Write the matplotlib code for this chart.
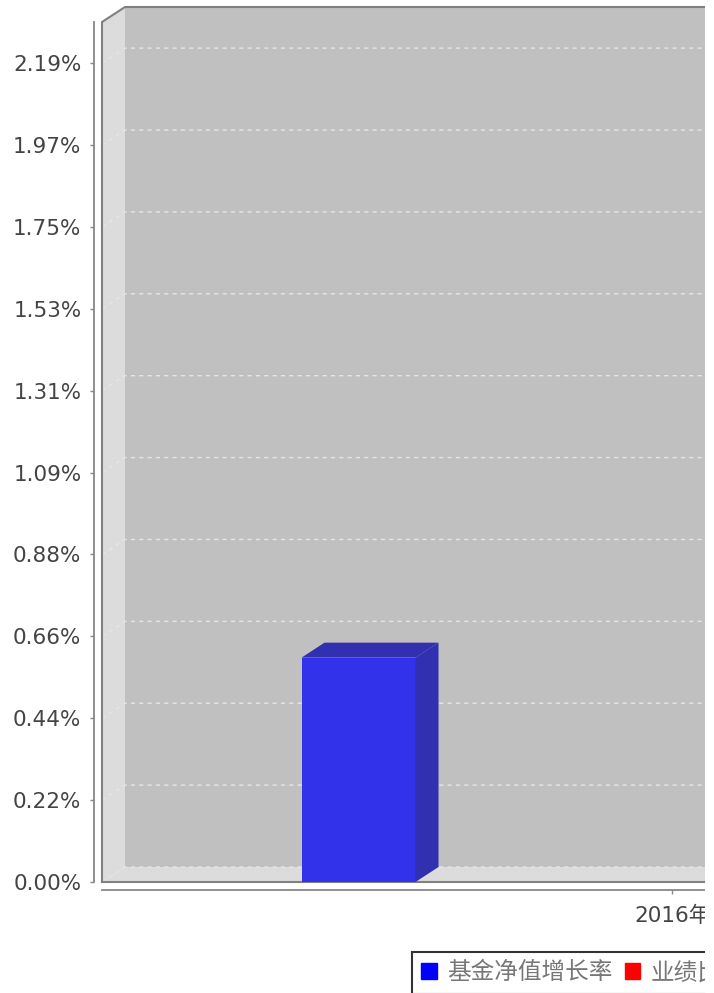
import numpy as np
import matplotlib.pyplot as plt
from matplotlib.patches import Polygon, Rectangle, Patch

plt.rcParams['font.family'] = ['DejaVu Sans', 'Noto Sans CJK SC']

categories = ['2016年']
nav_growth = [0.60]
benchmark = [2.19]
series_names = ['基金净值增长率', '业绩比较基准收益率']
ytick_vals = [0.0, 0.219, 0.438, 0.657, 0.876, 1.095, 1.314, 1.533, 1.752, 1.971, 2.19]
ytick_labels = ['0.00%', '0.22%', '0.44%', '0.66%', '0.88%', '1.09%',
                '1.31%', '1.53%', '1.75%', '1.97%', '2.19%']

W, H = 714, 993
left, right, top, bottom = 102, 705, 22, 882
full_w = 1140          # width of the uncropped plot area, px
depth_x, depth_y = 23, 15
ymax = 2.30

fig = plt.figure(figsize=(W / 100, H / 100), dpi=100)
ax = fig.add_axes([left / W, 1 - bottom / H, (right - left) / W, (bottom - top) / H])
x0, x1 = -0.5, -0.5 + (right - left) / full_w
ax.set_xlim(x0, x1)
ax.set_ylim(0, ymax)
ax.patch.set_visible(False)

# 3d offsets in data units
ox = depth_x / full_w
oy = depth_y * ymax / (bottom - top)
span = x1 - x0

# walls
ax.add_patch(Rectangle((x0 + ox, oy), span + 1, ymax, fc='#c0c0c0', ec='none',
                       zorder=0, clip_on=False))
ax.add_patch(Polygon([(x0, 0), (x0, ymax), (x0 + ox, ymax + oy), (x0 + ox, oy)],
                     fc='#dcdcdc', ec='none', zorder=0.5, clip_on=False))
ax.add_patch(Polygon([(x0, 0), (x1 + 1, 0), (x1 + 1 + ox, oy), (x0 + ox, oy)],
                     fc='#dcdcdc', ec='none', zorder=0.5, clip_on=False))

# grid on back wall
for v in ytick_vals:
    ax.plot([x0, x0 + ox, x1 + 1], [v, v + oy, v + oy], color='#e6e6e6', lw=1,
            ls=(0, (3, 3)), zorder=1, clip_on=False)

# wall outlines
edge = '#808080'
ax.plot([x0, x0, x0 + ox, x1 + 1], [0, ymax, ymax + oy, ymax + oy], color=edge,
        lw=1.5, zorder=2, clip_on=False)
ax.plot([x0, x1 + 1], [0, 0], color=edge, lw=1.5, zorder=2, clip_on=False)

# bars
x = np.arange(len(categories))
series = [(nav_growth, -0.275, '#3232ea', '#3030b0'),
          (benchmark, 0.275, '#ea3232', '#b03030')]
for vals, shift, front, dark in series:
    bars = ax.bar(x + shift, vals, 0.1, color=front, zorder=4)
    for r in bars:
        bx, bw, bh = r.get_x(), r.get_width(), r.get_height()
        ax.add_patch(Polygon([(bx, bh), (bx + bw, bh), (bx + bw + ox, bh + oy), (bx + ox, bh + oy)],
                             fc=dark, ec='none', zorder=4))
        ax.add_patch(Polygon([(bx + bw, 0), (bx + bw, bh), (bx + bw + ox, bh + oy), (bx + bw + ox, oy)],
                             fc=dark, ec='none', zorder=4))

# axes
for s in ['top', 'right']:
    ax.spines[s].set_visible(False)
ax.spines['left'].set_position(('outward', 5.8))
ax.spines['bottom'].set_position(('outward', 5.8))
for s in ['left', 'bottom']:
    ax.spines[s].set_color('#888888')
    ax.spines[s].set_linewidth(1.3)
ax.set_yticks(ytick_vals)
ax.set_yticklabels(ytick_labels)
ax.set_xticks(x)
ax.set_xticklabels(categories)
ax.tick_params(axis='both', colors='#888888', labelcolor='#444444', length=3,
               width=1, labelsize=15.5)
ax.tick_params(axis='y', pad=6)
ax.tick_params(axis='x', pad=8)

leg = fig.legend(handles=[Patch(color='#0000ff'), Patch(color='#ff0000')],
                 labels=series_names, loc='upper left',
                 bbox_to_anchor=(412 / W, 1 - 952 / H), ncol=2, frameon=True,
                 fancybox=False, edgecolor='#333333', framealpha=1,
                 prop={'family': ['Noto Sans CJK SC'], 'size': 17},
                 handlelength=0.65, handleheight=0.65, handletextpad=0.45,
                 columnspacing=0.5, borderpad=0.4, borderaxespad=0)
leg.get_frame().set_linewidth(1.5)
for t in leg.get_texts():
    t.set_color('#777777')

# the original image is cropped on the right
fig.add_artist(Rectangle((right / W, 0), 1, 1, transform=fig.transFigure,
                         fc='white', ec='none', zorder=10))

fig.savefig('out.png', dpi=100)
